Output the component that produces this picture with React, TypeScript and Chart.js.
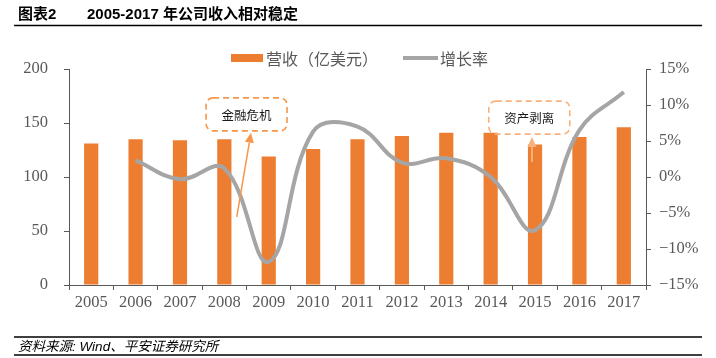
import React, { useEffect, useRef } from 'react';
import { Chart, registerables } from 'chart.js';

Chart.register(...registerables);

const years = ['2005', '2006', '2007', '2008', '2009', '2010', '2011', '2012', '2013', '2014', '2015', '2016', '2017'];
const revenue = [131, 135, 134, 135, 119, 126, 135, 138, 141, 141, 130, 137, 146];
const growth = [null, 2.3, -0.3, 1.2, -11.8, 6.3, 7.0, 2.0, 2.6, 0.0, -7.4, 6.5, 11.8];
const revenueLabel = '营收（亿美元）';
const growthLabel = '增长率';
const titleLeft = '图表2';
const titleRight = '2005-2017 年公司收入相对稳定';
const sourceText = '资料来源: Wind、平安证券研究所';

// annotations anchored to the scales: category index (may be fractional) and revenue value
const notes = [
  { text: '金融危机', cx: 3.5, cy: 158, arrowFrom: [3.28, 63], arrowTo: [3.6, 141], color: '#F7964A', lw: 1.5 },
  { text: '资产剥离', cx: 9.87, cy: 155, arrowFrom: [9.93, 114], arrowTo: [9.93, 137], color: '#F8B07C', lw: 2 },
];

const CJK = '"Noto Sans CJK SC"';
const SERIF = '"Liberation Serif", "DejaVu Serif", serif';
const AXIS_COLOR = '#595959';
const TEXT_COLOR = '#595959';

const overlay = {
  id: 'overlay',
  afterDraw(chart: any) {
    const ctx = chart.ctx as CanvasRenderingContext2D;
    const xs = chart.scales.x;
    const ys = chart.scales.y;
    ctx.save();

    // title
    ctx.fillStyle = '#000';
    ctx.textBaseline = 'middle';
    ctx.textAlign = 'left';
    ctx.font = `bold 15px "Liberation Sans", ${CJK}`;
    ctx.fillText(titleLeft, 18, 15);
    ctx.fillText(titleRight, 87, 15);
    ctx.strokeStyle = '#000';
    ctx.lineWidth = 1.5;
    ctx.beginPath();
    ctx.moveTo(14, 25.5);
    ctx.lineTo(702, 25.5);
    ctx.stroke();

    // footer
    ctx.lineWidth = 1.5;
    ctx.beginPath();
    ctx.moveTo(14, 337);
    ctx.lineTo(702, 337);
    ctx.moveTo(14, 355);
    ctx.lineTo(702, 355);
    ctx.stroke();
    ctx.font = `italic 13.5px "Liberation Sans", ${CJK}`;
    ctx.fillStyle = '#000';
    ctx.fillText(sourceText, 18, 347);

    // legend
    ctx.fillStyle = '#ED7D31';
    ctx.fillRect(231, 54, 32, 8);
    ctx.font = `16px ${CJK}`;
    ctx.fillStyle = TEXT_COLOR;
    ctx.fillText(revenueLabel, 266, 58.5);
    ctx.strokeStyle = '#A5A5A5';
    ctx.lineWidth = 4;
    ctx.beginPath();
    ctx.moveTo(403, 58);
    ctx.lineTo(438, 58);
    ctx.stroke();
    ctx.fillText(growthLabel, 440, 58.5);

    // annotations
    notes.forEach((n) => {
      const cx = xs.getPixelForValue(n.cx);
      const cy = ys.getPixelForValue(n.cy);
      const w = 81;
      const h = 33;
      ctx.setLineDash([6, 4]);
      ctx.strokeStyle = n.color;
      ctx.lineWidth = 1.6;
      ctx.beginPath();
      (ctx as any).roundRect(cx - w / 2, cy - h / 2, w, h, 7);
      ctx.stroke();
      ctx.setLineDash([]);
      ctx.fillStyle = '#1a1a1a';
      ctx.font = `12.5px ${CJK}`;
      ctx.textAlign = 'center';
      ctx.fillText(n.text, cx, cy + 0.5);

      const x1 = xs.getPixelForValue(n.arrowFrom[0]);
      const y1 = ys.getPixelForValue(n.arrowFrom[1]);
      const x2 = xs.getPixelForValue(n.arrowTo[0]);
      const y2 = ys.getPixelForValue(n.arrowTo[1]);
      const ang = Math.atan2(y2 - y1, x2 - x1);
      const headLen = 10;
      const headW = 4.5;
      const bx = x2 - headLen * Math.cos(ang);
      const by = y2 - headLen * Math.sin(ang);
      ctx.strokeStyle = n.color;
      ctx.fillStyle = n.color;
      ctx.lineWidth = n.lw;
      ctx.beginPath();
      ctx.moveTo(x1, y1);
      ctx.lineTo(bx, by);
      ctx.stroke();
      ctx.beginPath();
      ctx.moveTo(x2, y2);
      ctx.lineTo(bx + headW * Math.sin(ang), by - headW * Math.cos(ang));
      ctx.lineTo(bx - headW * Math.sin(ang), by + headW * Math.cos(ang));
      ctx.closePath();
      ctx.fill();
      ctx.textAlign = 'left';
    });

    ctx.restore();
  },
};

export default function App() {
  const ref = useRef<HTMLCanvasElement | null>(null);

  useEffect(() => {
    if (!ref.current) return;
    const chart = new Chart(ref.current, {
      type: 'bar',
      data: {
        labels: years,
        datasets: [
          {
            type: 'line',
            label: growthLabel,
            data: growth as any,
            yAxisID: 'y1',
            borderColor: '#A5A5A5',
            borderWidth: 4,
            tension: 0.4,
            pointRadius: 0,
            fill: false,
            order: 0,
          } as any,
          {
            type: 'bar',
            label: revenueLabel,
            data: revenue,
            yAxisID: 'y',
            backgroundColor: '#ED7D31',
            borderColor: '#F4A06A',
            borderWidth: 0,
            barPercentage: 0.32,
            categoryPercentage: 1,
            order: 1,
          },
        ],
      },
      options: {
        responsive: false,
        devicePixelRatio: 1,
        animation: false,
        layout: { padding: { left: 0, right: 0, top: 69, bottom: 0 } },
        plugins: {
          legend: { display: false },
          title: { display: false },
          tooltip: { enabled: false },
        },
        scales: {
          x: {
            offset: true,
            grid: {
              display: true,
              offset: true,
              drawOnChartArea: false,
              drawTicks: true,
              tickLength: 5,
              color: AXIS_COLOR,
            },
            border: { display: true, color: AXIS_COLOR, width: 1 },
            ticks: {
              color: TEXT_COLOR,
              font: { family: SERIF, size: 16.5 },
              padding: 3,
              maxRotation: 0,
              autoSkip: false,
            },
            afterFit: (s: any) => {
              s.height = 73;
            },
          },
          y: {
            position: 'left',
            min: 0,
            max: 200,
            ticks: {
              stepSize: 50,
              color: TEXT_COLOR,
              font: { family: SERIF, size: 16.5 },
              padding: 16,
            },
            grid: { drawOnChartArea: false, tickLength: 5, color: AXIS_COLOR },
            border: { display: true, color: AXIS_COLOR, width: 1 },
            afterFit: (s: any) => {
              s.width = 69;
            },
          },
          y1: {
            position: 'right',
            min: -15,
            max: 15,
            ticks: {
              stepSize: 5,
              color: TEXT_COLOR,
              font: { family: SERIF, size: 16.5 },
              padding: 8,
              callback: (v: any) => (v < 0 ? '\u2212' + Math.abs(v) : String(v)) + '%',
            },
            grid: { drawOnChartArea: false, tickLength: 5, color: AXIS_COLOR },
            border: { display: true, color: AXIS_COLOR, width: 1 },
            afterFit: (s: any) => {
              s.width = 70;
            },
          },
        },
      },
      plugins: [overlay],
    });
    return () => chart.destroy();
  }, []);

  return (
    <div style={{ position: 'absolute', left: 0, top: 0, width: 716, height: 358, background: '#fff' }}>
      <canvas ref={ref} width={716} height={358} style={{ display: 'block' }} />
    </div>
  );
}
